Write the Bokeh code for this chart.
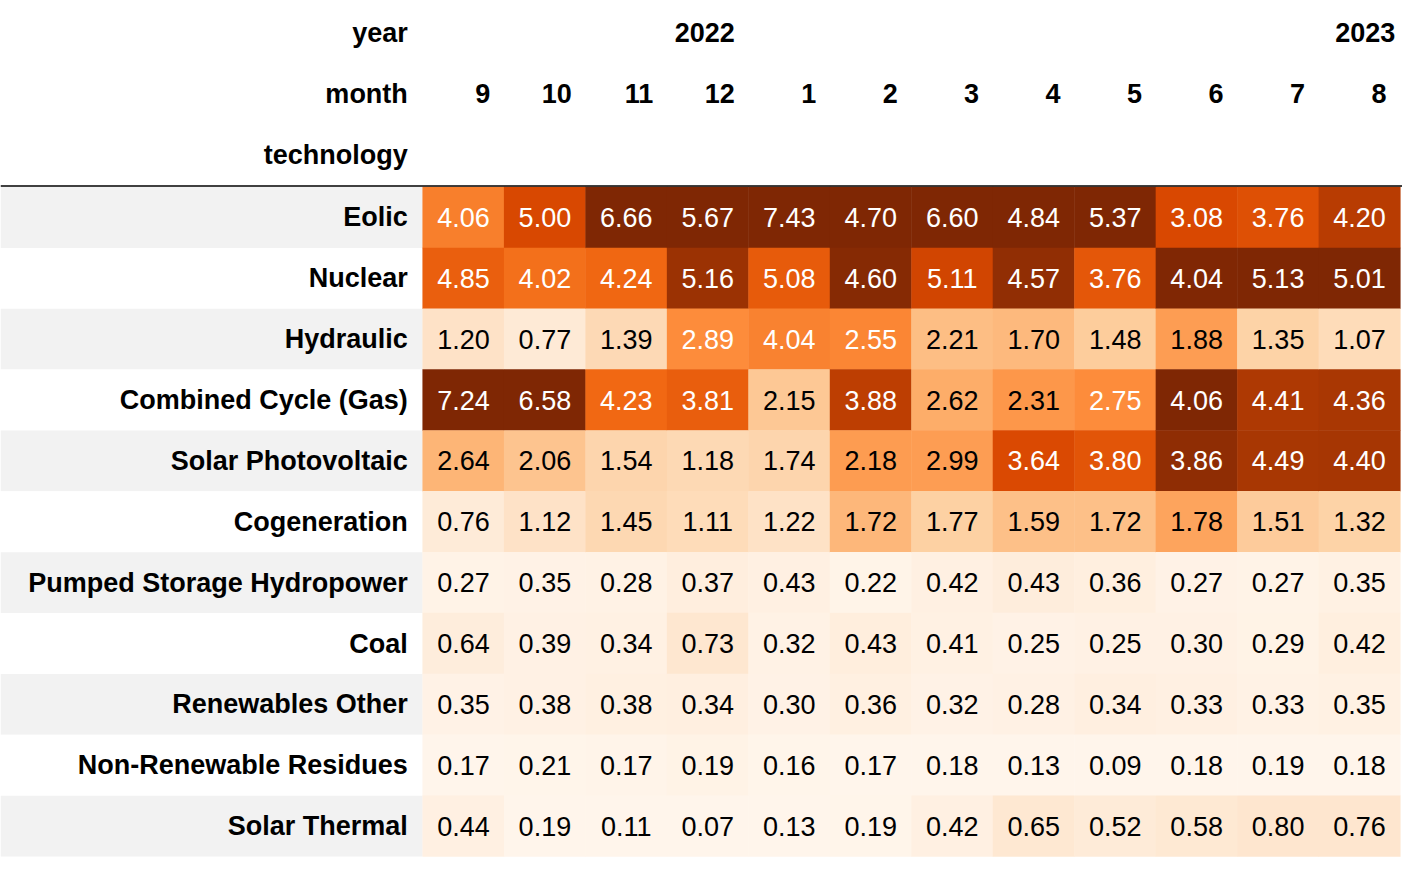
from bokeh.plotting import figure
from bokeh.models import Range1d
from bokeh.core.properties import value
from bokeh.palettes import Oranges256
from bokeh.embed import file_html
from bokeh.resources import INLINE

years = ["2022", "2023"]
months = ["9", "10", "11", "12", "1", "2", "3", "4", "5", "6", "7", "8"]
techs = ["Eolic", "Nuclear", "Hydraulic", "Combined Cycle (Gas)", "Solar Photovoltaic",
         "Cogeneration", "Pumped Storage Hydropower", "Coal", "Renewables Other",
         "Non-Renewable Residues", "Solar Thermal"]
eolic = [4.06, 5.00, 6.66, 5.67, 7.43, 4.70, 6.60, 4.84, 5.37, 3.08, 3.76, 4.20]
nuclear = [4.85, 4.02, 4.24, 5.16, 5.08, 4.60, 5.11, 4.57, 3.76, 4.04, 5.13, 5.01]
hydraulic = [1.20, 0.77, 1.39, 2.89, 4.04, 2.55, 2.21, 1.70, 1.48, 1.88, 1.35, 1.07]
combined = [7.24, 6.58, 4.23, 3.81, 2.15, 3.88, 2.62, 2.31, 2.75, 4.06, 4.41, 4.36]
solar_pv = [2.64, 2.06, 1.54, 1.18, 1.74, 2.18, 2.99, 3.64, 3.80, 3.86, 4.49, 4.40]
cogen = [0.76, 1.12, 1.45, 1.11, 1.22, 1.72, 1.77, 1.59, 1.72, 1.78, 1.51, 1.32]
pumped = [0.27, 0.35, 0.28, 0.37, 0.43, 0.22, 0.42, 0.43, 0.36, 0.27, 0.27, 0.35]
coal = [0.64, 0.39, 0.34, 0.73, 0.32, 0.43, 0.41, 0.25, 0.25, 0.30, 0.29, 0.42]
ren_other = [0.35, 0.38, 0.38, 0.34, 0.30, 0.36, 0.32, 0.28, 0.34, 0.33, 0.33, 0.35]
nonren = [0.17, 0.21, 0.17, 0.19, 0.16, 0.17, 0.18, 0.13, 0.09, 0.18, 0.19, 0.18]
solar_th = [0.44, 0.19, 0.11, 0.07, 0.13, 0.19, 0.42, 0.65, 0.52, 0.58, 0.80, 0.76]
rows = [eolic, nuclear, hydraulic, combined, solar_pv, cogen, pumped, coal, ren_other, nonren, solar_th]

pal = list(reversed(Oranges256))
FONT = value("Liberation Sans")
FS = "27px"

p = figure(width=1402, height=858, x_range=Range1d(0, 1418), y_range=Range1d(874, 0),
           output_backend="svg", toolbar_location=None)
p.axis.visible = False
p.grid.visible = False
p.outline_line_color = None
p.min_border = 0

x0, cw = 427, 82.4
y0, rh = 190, 62

def lum(h):
    r, g, b = [int(h[i:i+2], 16) / 255 for i in (1, 3, 5)]
    f = lambda c: c / 12.92 if c <= 0.03928 else ((c + 0.055) / 1.055) ** 2.4
    return 0.2126 * f(r) + 0.7152 * f(g) + 0.0722 * f(b)

gx, gy, gc = [], [], []
for i in range(len(techs)):
    gx.append(213.5); gy.append(y0 + rh * i + rh / 2)
    gc.append("#f2f2f2" if i % 2 == 0 else "#ffffff")
p.rect(x=gx, y=gy, width=427, height=rh, fill_color=gc, line_color=None)

cx, cy, cc, ct, tc = [], [], [], [], []
for j in range(len(months)):
    col = [r[j] for r in rows]
    lo, hi = min(col), max(col)
    for i, r in enumerate(rows):
        v = r[j]
        c = pal[int(round((v - lo) / (hi - lo) * 255))]
        cx.append(x0 + cw * j + cw / 2); cy.append(y0 + rh * i + rh / 2)
        cc.append(c); ct.append(f"{v:.2f}")
        tc.append("#ffffff" if lum(c) < 0.408 else "#000000")
p.rect(x=cx, y=cy, width=cw + 0.5, height=rh + 0.5, fill_color=cc, line_color=None)
p.text(x=cx, y=cy, text=ct, text_color=tc, text_font=FONT, text_font_size=FS,
       text_align="center", text_baseline="middle")

p.text(x=[412] * len(techs), y=[y0 + rh * i + rh / 2 for i in range(len(techs))], text=techs,
       text_font=FONT, text_font_size=FS, text_font_style="bold", text_align="right",
       text_baseline="middle")

p.text(x=[412, 412, 412], y=[33, 95, 157], text=["year", "month", "technology"],
       text_font=FONT, text_font_size=FS, text_font_style="bold", text_align="right",
       text_baseline="middle")
p.text(x=[x0 + cw * j + cw - 14 for j in range(len(months))], y=[95] * len(months), text=months,
       text_font=FONT, text_font_size=FS, text_font_style="bold", text_align="right",
       text_baseline="middle")
p.text(x=[x0 + cw * 4 - 14, x0 + cw * 12 - 5], y=[33, 33], text=years,
       text_font=FONT, text_font_size=FS, text_font_style="bold", text_align="right",
       text_baseline="middle")
p.segment(x0=[0], y0=[189], x1=[1418], y1=[189], line_color="black", line_width=1.5)

open("out.html", "w").write(file_html(p, INLINE))
